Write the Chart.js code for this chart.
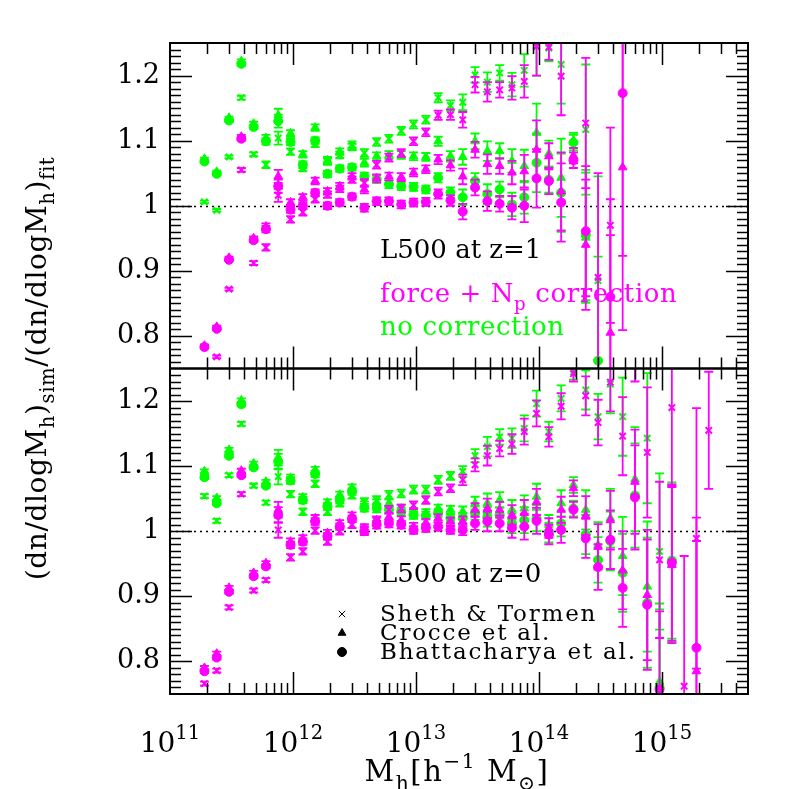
<!DOCTYPE html>
<html>
<head>
<meta charset="utf-8">
<script src="https://cdn.jsdelivr.net/npm/chart.js@4.4.0/dist/chart.umd.min.js"></script>
<style>html,body{margin:0;padding:0;background:#fff}</style>
</head>
<body>
<canvas id="c" width="789" height="789"></canvas>
<script>
////////////////////////// data //////////////////////////
// mass bins, log10(M_h / h^-1 Msun)
var logMass = [11.28, 11.38, 11.48, 11.58, 11.68, 11.78, 11.88, 11.98, 12.08, 12.18,
               12.28, 12.38, 12.48, 12.58, 12.68, 12.78, 12.88, 12.98, 13.08, 13.18,
               13.28, 13.38, 13.48, 13.58, 13.68, 13.78, 13.88, 13.98, 14.08, 14.18,
               14.28, 14.38, 14.48, 14.58, 14.68, 14.78, 14.88, 14.98, 15.08, 15.18,
               15.28, 15.38];

// z = 1 (top panel) ... "Corr" = force + Np correction, "None" = no correction
var stZ1None = [1.006, 0.993, 1.075, 1.166, 1.079, 1.063, 1.104, 1.083, 1.058, 1.095,
                1.068, 1.078, 1.094, 1.081, 1.098, 1.103, 1.115, 1.125, 1.132, 1.166,
                1.154, 1.159, 1.201, 1.190, 1.204, 1.186, 1.208, 1.245, 1.242, 1.217,
                null, 1.117, 0.885, null, null];
var stZ1Corr = [null, 0.768, 0.872, 1.055, 0.912, 0.936, 1.016, 0.979, 0.990, 1.010,
                1.017, 1.026, 1.040, 1.035, 1.063, 1.074, 1.081, 1.099, 1.113, 1.139,
                1.140, 1.132, 1.186, 1.175, 1.178, 1.181, 1.191, 1.245, 1.244, 1.199,
                null, 1.127, 0.890, 0.970, null];
var crZ1None = [1.072, 1.052, 1.135, 1.222, 1.126, 1.104, 1.139, 1.111, 1.079, 1.120,
                1.070, 1.083, 1.090, 1.066, 1.076, 1.078, 1.078, 1.076, 1.075, 1.099,
                1.076, 1.075, 1.099, 1.084, 1.084, 1.069, 1.061, 1.112, 1.080, 1.043,
                1.100, 0.951, null, null, null];
var crZ1Corr = [0.785, 0.814, 0.920, 1.106, 0.950, 0.968, 1.045, 1.005, 1.013, 1.038,
                1.022, 1.030, 1.045, 1.025, 1.042, 1.045, 1.044, 1.051, 1.056, 1.071,
                1.062, 1.045, 1.086, 1.064, 1.061, 1.051, 1.053, 1.086, 1.076, 1.022,
                1.077, 0.940, null, 0.805, 1.059];
var bhZ1None = [1.068, 1.049, 1.131, 1.218, 1.121, 1.099, 1.130, 1.098, 1.063, 1.100,
                1.049, 1.057, 1.059, 1.045, 1.041, 1.033, 1.030, 1.029, 1.025, 1.043,
                1.020, 1.013, 1.038, 1.018, 1.025, 1.002, 1.013, 1.066, 1.040, 1.020,
                1.097, 0.955, 0.762, null, null];
var bhZ1Corr = [0.783, 0.811, 0.917, 1.103, 0.947, 0.964, 1.030, 0.994, 1.000, 1.020,
                1.000, 1.005, 1.014, 0.997, 1.007, 1.007, 1.002, 1.005, 1.006, 1.018,
                1.008, 0.991, 1.028, 1.007, 1.003, 0.997, 1.000, 1.042, 1.038, 1.005,
                1.070, 0.961, null, 0.860, 1.173];
var errZ1 = [0.002, 0.002, 0.002, 0.003, 0.003, 0.005, 0.010, 0.005, 0.005, 0.005,
             0.005, 0.005, 0.005, 0.006, 0.006, 0.006, 0.006, 0.006, 0.006, 0.007,
             0.008, 0.012, 0.012, 0.015, 0.012, 0.018, 0.025, 0.045, 0.020, 0.060,
             0.012, 0.100, 0.160, 0.150, 0.250];

// z = 0 (bottom panel)
var stZ0None = [1.054, 1.016, 1.086, 1.165, 1.070, 1.044, 1.084, 1.057, 1.030, 1.073,
                1.030, 1.043, 1.055, 1.045, 1.048, 1.056, 1.058, 1.064, 1.064, 1.079,
                1.085, 1.092, 1.116, 1.130, 1.145, 1.143, 1.158, 1.196, 1.153, 1.204,
                1.245, 1.217, 1.176, 1.226, 1.176, null, 1.143, 0.969, null, null,
                null, null];
var stZ0Corr = [0.766, 0.786, 0.883, 1.057, 0.909, 0.925, 1.002, 0.960, 0.969, 1.001,
                0.984, 1.000, 1.010, 1.002, 1.015, 1.033, 1.035, 1.040, 1.048, 1.061,
                1.066, 1.079, 1.102, 1.116, 1.127, 1.134, 1.153, 1.181, 1.145, 1.192,
                1.242, 1.208, 1.167, 1.229, 1.146, 1.310, 1.121, 0.956, 1.190, 0.762,
                0.989, 1.155];
var crZ0None = [1.092, 1.051, 1.125, 1.201, 1.104, 1.076, 1.113, 1.082, 1.052, 1.094,
                1.044, 1.056, 1.067, 1.040, 1.043, 1.043, 1.035, 1.030, 1.028, 1.035,
                1.033, 1.030, 1.043, 1.043, 1.048, 1.033, 1.035, 1.053, 1.010, 1.043,
                1.071, 1.033, 0.979, 1.020, 0.962, 1.080, 0.915, 0.769, 0.950, null,
                null, null];
var crZ0Corr = [0.790, 0.812, 0.913, 1.093, 0.936, 0.951, 1.033, 0.984, 0.989, 1.020,
                0.997, 1.012, 1.024, 1.005, 1.017, 1.022, 1.017, 1.007, 1.013, 1.020,
                1.015, 1.015, 1.033, 1.035, 1.033, 1.025, 1.028, 1.045, 1.005, 1.033,
                1.066, 1.024, 0.976, 1.017, 0.940, 1.076, 0.902, null, 0.948, null,
                0.785, null];
var bhZ0None = [1.083, 1.043, 1.116, 1.195, 1.098, 1.070, 1.107, 1.078, 1.048, 1.088,
                1.038, 1.048, 1.061, 1.036, 1.035, 1.033, 1.030, 1.025, 1.024, 1.028,
                1.020, 1.020, 1.028, 1.022, 1.025, 1.012, 1.017, 1.020, 0.998, 1.012,
                1.035, 0.995, 0.956, 0.985, 0.936, 1.055, 0.890, 0.760, 0.955, null,
                null, null];
var bhZ0Corr = [0.785, 0.806, 0.907, 1.086, 0.931, 0.946, 1.025, 0.979, 0.984, 1.015,
                0.992, 1.007, 1.019, 1.000, 1.010, 1.012, 1.010, 1.002, 1.005, 1.007,
                1.002, 1.002, 1.012, 1.015, 1.012, 1.005, 1.007, 1.016, 0.995, 1.002,
                1.033, 0.989, 0.945, 0.987, 0.913, 1.052, 0.887, 0.757, 0.952, null,
                0.821, null];
var errZ0 = [0.003, 0.003, 0.003, 0.003, 0.003, 0.003, 0.012, 0.005, 0.005, 0.005,
             0.005, 0.005, 0.005, 0.006, 0.006, 0.006, 0.006, 0.006, 0.006, 0.006,
             0.006, 0.008, 0.010, 0.015, 0.012, 0.015, 0.020, 0.020, 0.015, 0.020,
             0.012, 0.030, 0.035, 0.045, 0.060, 0.080, 0.100, 0.120, 0.120, 0.200,
             0.200, 0.090];

var yTickVals = [0.8, 0.9, 1, 1.1, 1.2];
var xDecades = [11, 12, 13, 14, 15];

////////////////////////// styles //////////////////////////
var MAG = '#ff00ff', GRN = '#00ff00';
var FONT = '"DejaVu Serif", "Liberation Serif", serif';

function makeSet(label, vals, errs, axis, color, style) {
    var pts = [];
    for (var i = 0; i < vals.length; i++) {
        if (vals[i] === null) continue;
        pts.push({x: Math.pow(10, logMass[i]), y: vals[i], e: errs[i]});
    }
    return {
        label: label, data: pts, yAxisID: axis,
        pointStyle: style, pointRadius: style === 'triangle' ? 5 : 4.5,
        borderColor: color, backgroundColor: color,
        pointBorderWidth: style === 'crossRot' ? 2 : 1,
        showLine: false
    };
}

// first datasets are drawn on top -> magenta before green
var datasets = [
    makeSet('ST z1 corr', stZ1Corr, errZ1, 'yTop', MAG, 'crossRot'),
    makeSet('Crocce z1 corr', crZ1Corr, errZ1, 'yTop', MAG, 'triangle'),
    makeSet('Bhatt z1 corr', bhZ1Corr, errZ1, 'yTop', MAG, 'circle'),
    makeSet('ST z0 corr', stZ0Corr, errZ0, 'yBot', MAG, 'crossRot'),
    makeSet('Crocce z0 corr', crZ0Corr, errZ0, 'yBot', MAG, 'triangle'),
    makeSet('Bhatt z0 corr', bhZ0Corr, errZ0, 'yBot', MAG, 'circle'),
    makeSet('ST z1', stZ1None, errZ1, 'yTop', GRN, 'crossRot'),
    makeSet('Crocce z1', crZ1None, errZ1, 'yTop', GRN, 'triangle'),
    makeSet('Bhatt z1', bhZ1None, errZ1, 'yTop', GRN, 'circle'),
    makeSet('ST z0', stZ0None, errZ0, 'yBot', GRN, 'crossRot'),
    makeSet('Crocce z0', crZ0None, errZ0, 'yBot', GRN, 'triangle'),
    makeSet('Bhatt z0', bhZ0None, errZ0, 'yBot', GRN, 'circle')
];

////////////////////////// helpers //////////////////////////
// parts: [text, 0 normal | 1 subscript | 2 superscript]
function drawRich(ctx, parts, x, y, size, align, spacing) {
    ctx.letterSpacing = (spacing || 0) + 'px';
    var w = 0;
    parts.forEach(function(p) {
        ctx.font = (p[1] ? size * 0.7 : size) + 'px ' + FONT;
        w += ctx.measureText(p[0]).width;
    });
    var cx = align === 'center' ? x - w / 2 : (align === 'right' ? x - w : x);
    ctx.textAlign = 'left';
    ctx.textBaseline = 'alphabetic';
    parts.forEach(function(p) {
        ctx.font = (p[1] ? size * 0.7 : size) + 'px ' + FONT;
        var dy = p[1] === 1 ? size * 0.3 : (p[1] === 2 ? -size * 0.45 : 0);
        ctx.fillText(p[0], cx, y + dy);
        cx += ctx.measureText(p[0]).width;
    });
    ctx.letterSpacing = '0px';
}

function drawPanelFrame(ctx, xs, ys) {
    var L = xs.left, R = xs.right, T = ys.top, B = ys.bottom;
    ctx.save();
    ctx.strokeStyle = '#000';
    ctx.lineWidth = 1.5;
    ctx.beginPath();
    for (var d = 11; d <= 15; d++) {
        for (var m = 1; m <= 9; m++) {
            var v = m * Math.pow(10, d);
            if (v <= xs.min * 1.001 || v >= xs.max * 0.999) continue;
            var px = Math.round(xs.getPixelForValue(v)) + 0.5;
            var len = m === 1 ? 22 : 11;
            ctx.moveTo(px, B); ctx.lineTo(px, B - len);
            ctx.moveTo(px, T); ctx.lineTo(px, T + len);
        }
    }
    for (var i = 76; i <= 124; i++) {
        var py = Math.round(ys.getPixelForValue(i / 100)) + 0.5;
        var len2 = i % 10 === 0 ? 22 : 11;
        ctx.moveTo(L, py); ctx.lineTo(L + len2, py);
        ctx.moveTo(R, py); ctx.lineTo(R - len2, py);
    }
    ctx.stroke();
    ctx.lineWidth = 2;
    ctx.strokeRect(L, T, R - L, B - T);
    // tick labels
    ctx.fillStyle = '#000';
    ctx.font = '27px ' + FONT;
    ctx.textAlign = 'right';
    ctx.textBaseline = 'middle';
    yTickVals.forEach(function(v) {
        ctx.fillText(String(v), L - 10, ys.getPixelForValue(v));
    });
    ctx.restore();
}

var panelPlugin = {
    id: 'panels',
    beforeDatasetsDraw: function(chart) {
        var ctx = chart.ctx, xs = chart.scales.x;
        ctx.save();
        ctx.strokeStyle = '#000';
        ctx.lineWidth = 1.5;
        ctx.setLineDash([2, 4]);
        ['yTop', 'yBot'].forEach(function(id) {
            var py = Math.round(chart.scales[id].getPixelForValue(1)) + 0.5;
            ctx.beginPath();
            ctx.moveTo(xs.left, py); ctx.lineTo(xs.right, py);
            ctx.stroke();
        });
        ctx.restore();
    },
    beforeDatasetDraw: function(chart, args) {
        var ctx = chart.ctx, ys = args.meta.yScale, xs = args.meta.xScale;
        var ds = chart.data.datasets[args.index];
        ctx.save();
        ctx.beginPath();
        ctx.rect(xs.left, ys.top, xs.right - xs.left, ys.bottom - ys.top);
        ctx.clip();
        // error bars, under the points
        ctx.strokeStyle = ds.borderColor;
        ctx.lineWidth = 1.8;
        ds.data.forEach(function(p) {
            var px = xs.getPixelForValue(p.x);
            var y1 = ys.getPixelForValue(p.y + p.e), y2 = ys.getPixelForValue(p.y - p.e);
            ctx.beginPath();
            ctx.moveTo(px, y1); ctx.lineTo(px, y2);
            ctx.moveTo(px - 4.5, y1); ctx.lineTo(px + 4.5, y1);
            ctx.moveTo(px - 4.5, y2); ctx.lineTo(px + 4.5, y2);
            ctx.stroke();
        });
    },
    afterDatasetDraw: function(chart) {
        chart.ctx.restore();
    },
    afterDraw: function(chart) {
        var ctx = chart.ctx, xs = chart.scales.x, yt = chart.scales.yTop, yb = chart.scales.yBot;
        drawPanelFrame(ctx, xs, yt);
        drawPanelFrame(ctx, xs, yb);

        ctx.save();
        ctx.fillStyle = '#000';
        // x tick labels 10^n
        xDecades.forEach(function(d) {
            drawRich(ctx, [['10', 0], [String(d), 2]], xs.getPixelForValue(Math.pow(10, d)), yb.bottom + 58, 28, 'center');
        });
        // x title
        drawRich(ctx, [['M', 0], ['h', 1], ['[h', 0], ['\u22121', 2], [' M', 0], ['\u2299', 1], [']', 0]],
                 457, 781, 29, 'center', 1.5);
        // y title
        ctx.save();
        ctx.translate(46, (yt.top + yb.bottom) / 2);
        ctx.rotate(-Math.PI / 2);
        drawRich(ctx, [['(dn/dlogM', 0], ['h', 1], [')', 0], ['sim', 1], ['/(dn/dlogM', 0], ['h', 1], [')', 0], ['fit', 1]],
                 0, 0, 28, 'center', 0.6);
        ctx.restore();

        // annotations
        var tx = 380;
        drawRich(ctx, [['L500 at z=1', 0]], tx, 258, 26, 'left');
        ctx.fillStyle = MAG;
        drawRich(ctx, [['force + N', 0], ['p', 1], [' correction', 0]], tx, 302, 26, 'left', 0.6);
        ctx.fillStyle = GRN;
        drawRich(ctx, [['no correction', 0]], tx, 335, 26, 'left', 0.6);
        ctx.fillStyle = '#000';
        drawRich(ctx, [['L500 at z=0', 0]], tx, 582, 26, 'left');
        var leg = [['Sheth & Tormen', 'crossRot', 621], ['Crocce et al.', 'triangle', 640], ['Bhattacharya et al.', 'circle', 659]];
        leg.forEach(function(l) {
            ctx.fillStyle = '#000';
            ctx.strokeStyle = '#000';
            drawRich(ctx, [[l[0], 0]], tx, l[2], 23, 'left', 1.8);
            Chart.helpers.drawPoint(ctx, {pointStyle: l[1], radius: 4.5, rotation: 0,
                                          borderWidth: l[1] === 'crossRot' ? 2 : 1}, 342, l[2] - 7);
        });
        ctx.restore();
    }
};

new Chart(document.getElementById('c').getContext('2d'), {
    type: 'scatter',
    data: {datasets: datasets},
    options: {
        responsive: false,
        animation: false,
        events: [],
        layout: {padding: {left: 170, right: 41, top: 43, bottom: 95}},
        plugins: {legend: {display: false}, tooltip: {enabled: false}},
        scales: {
            x: {type: 'logarithmic', min: 1e11, max: 5e15, display: false},
            yBot: {type: 'linear', position: 'left', stack: 'panels', stackWeight: 1, min: 0.75, max: 1.25, display: false},
            yTop: {type: 'linear', position: 'left', stack: 'panels', stackWeight: 1, min: 0.75, max: 1.25, display: false}
        }
    },
    plugins: [panelPlugin]
});
</script>
</body>
</html>
